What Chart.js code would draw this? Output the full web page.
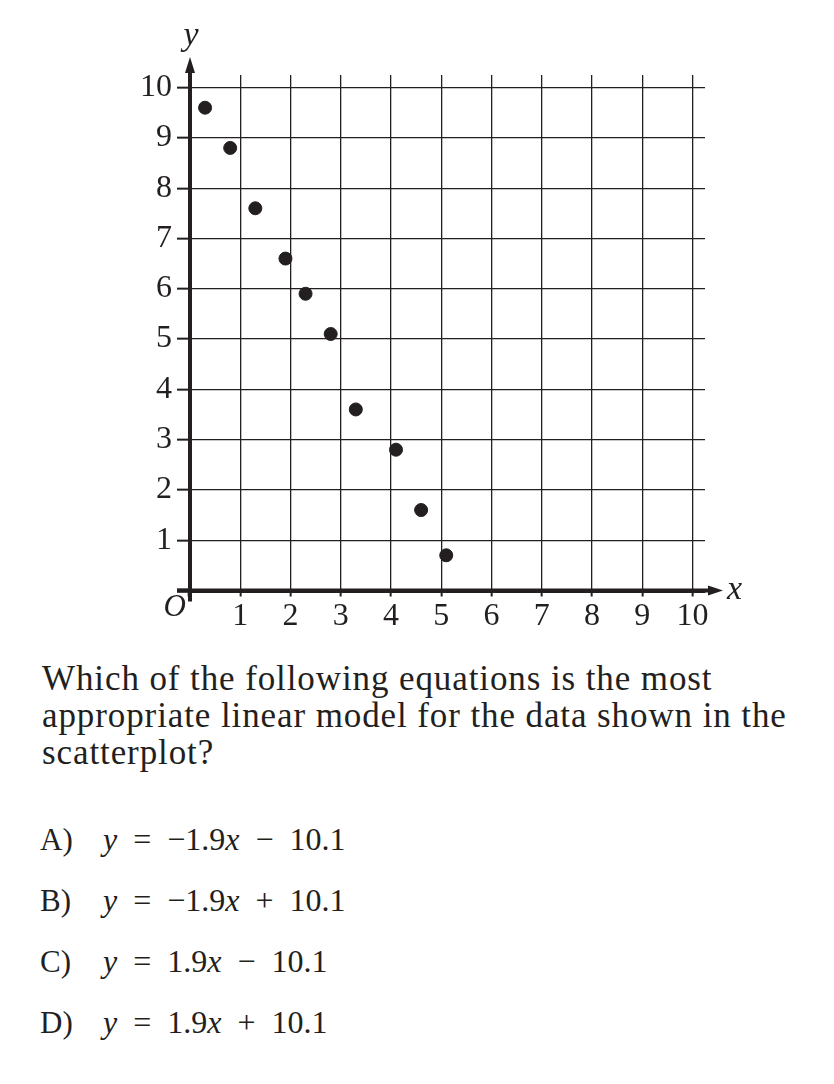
<!DOCTYPE html>
<html>
<head>
<meta charset="utf-8">
<script src="https://cdn.jsdelivr.net/npm/chart.js@4.4.1/dist/chart.umd.min.js"></script>
<style>
  html, body { margin: 0; padding: 0; background: #fff; }
  body { width: 834px; height: 1084px; position: relative; overflow: hidden;
         font-family: "Liberation Serif", serif; color: #231f20; }
  #plot { position: absolute; left: 0; top: 0; }
  .question { position: absolute; left: 42px; top: 660px; font-size: 35px; line-height: 37px;
              letter-spacing: 0.9px; white-space: nowrap; }
  .answer { position: absolute; left: 40px; font-size: 31px; line-height: 61px; white-space: nowrap; }
  .answer .eq { position: absolute; left: 63px; font-size: 32px; word-spacing: 8px; }
  i { font-style: italic; }
</style>
</head>
<body>
<canvas id="plot" width="834" height="640"></canvas>

<div class="question">Which of the following equations is the most<br>appropriate linear model for the data shown in the<br>scatterplot?</div>
<div class="answer" style="top:809px">A)<span class="eq"><i>y</i> = −1.9<i>x</i> − 10.1</span></div>
<div class="answer" style="top:870px">B)<span class="eq"><i>y</i> = −1.9<i>x</i> + 10.1</span></div>
<div class="answer" style="top:931px">C)<span class="eq"><i>y</i> = 1.9<i>x</i> − 10.1</span></div>
<div class="answer" style="top:992px">D)<span class="eq"><i>y</i> = 1.9<i>x</i> + 10.1</span></div>

<script>
/* ---- datos ---- */
const puntosX = [0.3, 0.8, 1.3, 1.9, 2.3, 2.8, 3.3, 4.1, 4.6, 5.1];
const puntosY = [9.6, 8.8, 7.6, 6.6, 5.9, 5.1, 3.6, 2.8, 1.6, 0.7];
const ticksX  = [0, 1, 2, 3, 4, 5, 6, 7, 8, 9, 10];
const ticksY  = [0, 1, 2, 3, 4, 5, 6, 7, 8, 9, 10];

const TINTA = "#231f20";
const FUENTE = "'Liberation Serif', serif";

/* flechas de los ejes, O, x, y */
const ejesPlugin = {
  id: "ejes",
  afterDraw(chart) {
    const { ctx } = chart;
    const { left, right, top, bottom } = chart.chartArea;
    ctx.save();
    ctx.strokeStyle = TINTA;
    ctx.fillStyle = TINTA;
    ctx.lineWidth = 4;

    // prolongaciones de los ejes
    ctx.beginPath();
    ctx.moveTo(left, bottom + 11);
    ctx.lineTo(left, top - 6);
    ctx.moveTo(left - 13, bottom);
    ctx.lineTo(right + 6, bottom);
    ctx.stroke();

    // punta eje y
    ctx.beginPath();
    ctx.moveTo(left, top - 18);
    ctx.lineTo(left - 5, top - 2);
    ctx.lineTo(left + 5, top - 2);
    ctx.closePath();
    ctx.fill();

    // punta eje x
    ctx.beginPath();
    ctx.moveTo(right + 18, bottom);
    ctx.lineTo(right + 3, bottom - 5);
    ctx.lineTo(right + 3, bottom + 5);
    ctx.closePath();
    ctx.fill();

    ctx.font = "italic 34px " + FUENTE;
    ctx.textAlign = "center";
    ctx.textBaseline = "alphabetic";
    ctx.fillText("y", left + 1, top - 30);
    ctx.textAlign = "left";
    ctx.fillText("x", right + 22, bottom + 8);
    ctx.font = "italic 31px " + FUENTE;
    ctx.textAlign = "right";
    ctx.fillText("O", left - 4, bottom + 25);
    ctx.restore();
  },
};

function gridOpts(largo) {
  return {
    color: TINTA,
    lineWidth: 1.3,
    tickLength: largo,
    tickColor: TINTA,
    tickWidth: c => (c.tick && c.tick.value === 0 ? 4 : 2),
  };
}

const tickFont = { family: FUENTE, size: 32 };

new Chart(document.getElementById("plot"), {
  type: "scatter",
  data: {
    datasets: [{
      data: puntosX.map((x, i) => ({ x, y: puntosY[i] })),
      backgroundColor: TINTA,
      borderColor: TINTA,
      pointRadius: 6.5,
      pointHoverRadius: 6.5,
    }],
  },
  options: {
    responsive: false,
    animation: false,
    devicePixelRatio: 1,
    layout: { padding: { top: 75, right: 129, left: 0, bottom: 0 } },
    plugins: { legend: { display: false }, tooltip: { enabled: false } },
    scales: {
      x: {
        type: "linear",
        min: 0,
        max: 10.25,
        afterBuildTicks: s => { s.ticks = ticksX.map(v => ({ value: v })); },
        afterFit: s => { s.height = 49.5; },
        grid: gridOpts(6),
        border: { display: true, color: TINTA, width: 4 },
        ticks: {
          font: tickFont, color: TINTA, padding: 1,
          callback: v => (v === 0 ? "" : String(v)),
        },
      },
      y: {
        type: "linear",
        min: 0,
        max: 10.25,
        afterBuildTicks: s => { s.ticks = ticksY.map(v => ({ value: v })); },
        afterFit: s => { s.width = 190; },
        grid: gridOpts(13),
        border: { display: true, color: TINTA, width: 4 },
        ticks: {
          font: tickFont, color: TINTA, padding: 5,
          callback: v => (v === 0 ? "" : String(v)),
        },
      },
    },
  },
  plugins: [ejesPlugin],
});
</script>
</body>
</html>
